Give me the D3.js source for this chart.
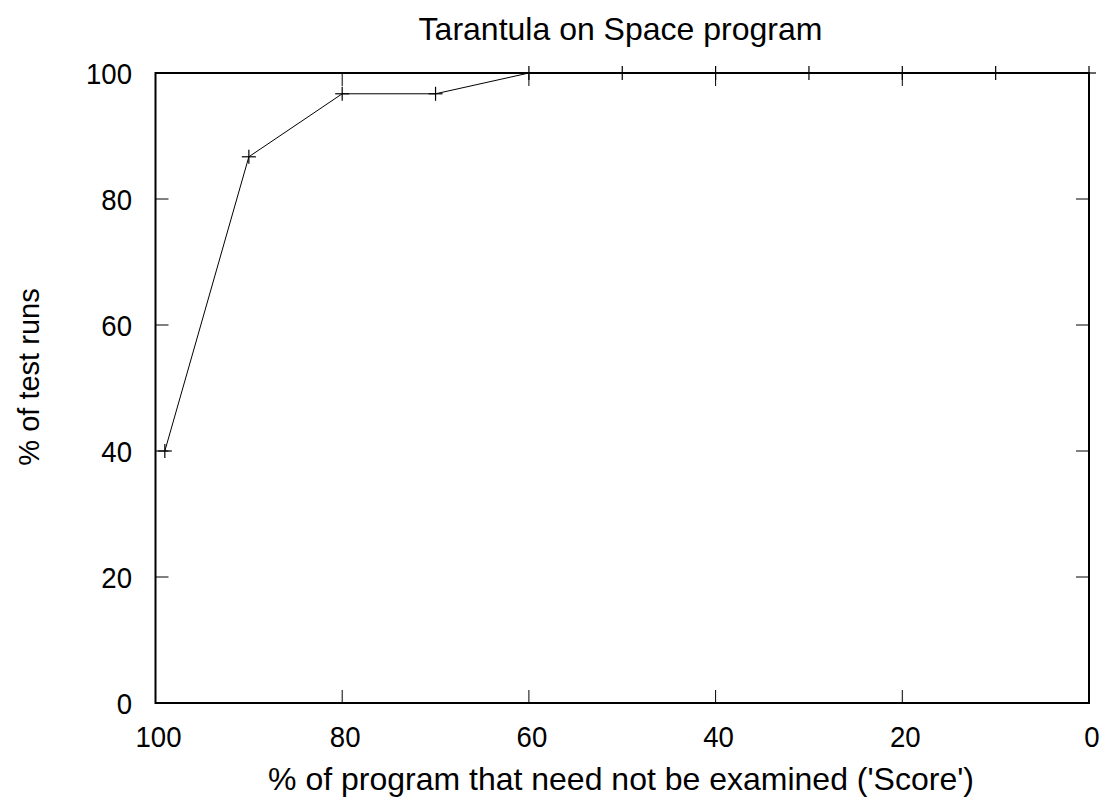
<!DOCTYPE html>
<html>
<head>
<meta charset="utf-8">
<script src="https://cdn.jsdelivr.net/npm/d3@7"></script>
<style>
  html, body { margin: 0; padding: 0; background: #fff; }
  svg { display: block; font-family: "Liberation Sans", Arial, sans-serif; }
</style>
</head>
<body>
<svg id="chart" width="1107" height="802"></svg>
<script>
// Score (% of program not examined) vs cumulative % of test runs
const scores = [99, 90, 80, 70, 60, 50, 40, 30, 20, 10, 0];
const testRuns = [40, 86.7, 96.7, 96.7, 100, 100, 100, 100, 100, 100, 100];
const xTicks = [100, 80, 60, 40, 20, 0];
const yTicks = [0, 20, 40, 60, 80, 100];
const titleText = "Tarantula on Space program";
const xLabel = "% of program that need not be examined ('Score')";
const yLabel = "% of test runs";

const svg = d3.select("#chart");
const plotLeft = 155.5, plotRight = 1089, plotTop = 73, plotBottom = 703;

const x = d3.scaleLinear().domain([100, 0]).range([plotLeft, plotRight]);
const y = d3.scaleLinear().domain([0, 100]).range([plotBottom, plotTop]);

const tickLen = 13;
const tickFont = 30;
const tickSquash = 0.92;
const labelFont = 32;

// Tick marks on all four sides, pointing inward
const g = svg.append("g").attr("stroke", "#000").attr("stroke-width", 1);
xTicks.forEach(t => {
  g.append("line").attr("x1", x(t)).attr("x2", x(t)).attr("y1", plotBottom).attr("y2", plotBottom - tickLen);
  g.append("line").attr("x1", x(t)).attr("x2", x(t)).attr("y1", plotTop).attr("y2", plotTop + tickLen);
});
yTicks.forEach(t => {
  g.append("line").attr("x1", plotLeft).attr("x2", plotLeft + tickLen).attr("y1", y(t)).attr("y2", y(t));
  g.append("line").attr("x1", plotRight).attr("x2", plotRight - tickLen).attr("y1", y(t)).attr("y2", y(t));
});

// Frame
svg.append("rect")
  .attr("x", plotLeft).attr("y", plotTop)
  .attr("width", plotRight - plotLeft).attr("height", plotBottom - plotTop)
  .attr("fill", "none").attr("stroke", "#000").attr("stroke-width", 2);

// Tick labels (slightly condensed digits)
svg.append("g").selectAll("text").data(xTicks).join("text")
  .attr("transform", d => `translate(${x(d) + 3}, 747) scale(${tickSquash}, 1)`)
  .attr("text-anchor", "middle").attr("font-size", tickFont)
  .text(d => d);
svg.append("g").selectAll("text").data(yTicks).join("text")
  .attr("transform", d => `translate(132, ${y(d) + 11}) scale(${tickSquash}, 1)`)
  .attr("text-anchor", "end").attr("font-size", tickFont)
  .text(d => d);

// Data line
const pts = scores.map((s, i) => [s, testRuns[i]]);
svg.append("path")
  .datum(pts)
  .attr("fill", "none").attr("stroke", "#000").attr("stroke-width", 1)
  .attr("d", d3.line().x(d => x(d[0])).y(d => y(d[1])));

// Point markers (plus signs)
const m = 7;
const mk = svg.append("g").attr("stroke", "#000").attr("stroke-width", 1.2);
pts.forEach(d => {
  const px = x(d[0]), py = y(d[1]);
  mk.append("line").attr("x1", px - m).attr("x2", px + m).attr("y1", py).attr("y2", py);
  mk.append("line").attr("x1", px).attr("x2", px).attr("y1", py - m).attr("y2", py + m);
});

// Titles
svg.append("text")
  .attr("x", 620.5).attr("y", 40)
  .attr("text-anchor", "middle").attr("font-size", labelFont)
  .text(titleText);
svg.append("text")
  .attr("x", 621).attr("y", 790)
  .attr("text-anchor", "middle").attr("font-size", labelFont)
  .text(xLabel);
svg.append("text")
  .attr("transform", `translate(39, 377) rotate(-90)`)
  .attr("text-anchor", "middle").attr("font-size", 29)
  .text(yLabel);
</script>
</body>
</html>
